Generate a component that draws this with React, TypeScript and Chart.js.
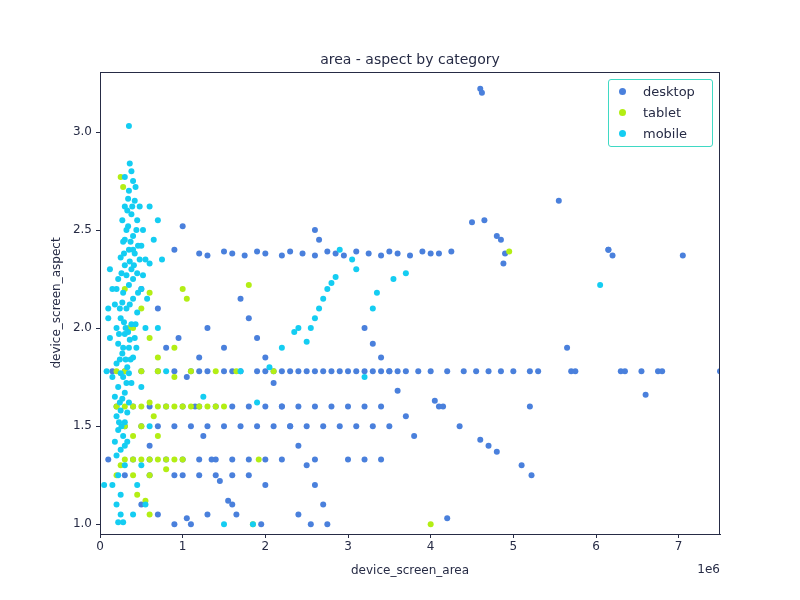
import React, { useEffect, useRef } from "react";
import { Chart, registerables } from "chart.js";
Chart.register(...registerables);

const TITLE = "area - aspect by category";
const X_LABEL = "device_screen_area";
const Y_LABEL = "device_screen_aspect";
const X_TICKS = [0, 1, 2, 3, 4, 5, 6, 7];
const Y_TICKS = [1.0, 1.5, 2.0, 2.5, 3.0];
const CATEGORIES = ["desktop", "tablet", "mobile"];
const COLORS = ["#4a80dc", "#b3ee14", "#14cdf2"];

// [area in millions, aspect]
const desktop: number[][] = [
  [0.15,1.78],[0.3,1.78],[0.5,1.78],[0.7,1.78],[0.9,1.78],[1.1,1.78],[1.3,1.78],[1.5,1.78],[1.7,1.78],[1.9,1.78],[2.1,1.78],[2.3,1.78],[2.5,1.78],[2.7,1.78],[2.9,1.78],[3.1,1.78],[3.3,1.78],[3.5,1.78],[3.6,1.78],[3.7,1.78],[3.85,1.78],[4.0,1.78],[4.2,1.78],[4.4,1.78],[4.55,1.78],[4.7,1.78],[4.85,1.78],[5.0,1.78],[5.2,1.78],[5.3,1.78],[5.7,1.78],[5.75,1.78],[6.3,1.78],[6.35,1.78],[6.55,1.78],[6.75,1.78],[6.8,1.78],[7.5,1.78],
  [2.2,1.78],[2.4,1.78],[2.6,1.78],[2.8,1.78],[3.0,1.78],[3.2,1.78],[3.4,1.78],[1.2,1.78],[1.6,1.78],[2.0,1.78],
  [0.2,1.6],[0.4,1.6],[0.6,1.6],[0.8,1.6],[1.0,1.6],[1.2,1.6],[1.4,1.6],[1.6,1.6],[1.8,1.6],[2.0,1.6],[2.2,1.6],[2.4,1.6],[2.6,1.6],[2.8,1.6],[3.0,1.6],[3.2,1.6],[3.4,1.6],[4.1,1.6],[5.2,1.6],
  [0.3,1.5],[0.5,1.5],[0.7,1.5],[0.9,1.5],[1.1,1.5],[1.3,1.5],[1.5,1.5],[1.7,1.5],[1.9,1.5],[2.1,1.5],[2.3,1.5],[2.5,1.5],[2.7,1.5],[2.9,1.5],[3.1,1.5],[3.3,1.5],[3.5,1.5],
  [0.1,1.33],[0.4,1.33],[0.6,1.33],[0.8,1.33],[1.0,1.33],[1.2,1.33],[1.4,1.33],[1.6,1.33],[1.8,1.33],[2.0,1.33],[2.2,1.33],[2.6,1.33],[3.0,1.33],[3.2,1.33],[3.4,1.33],
  [0.3,1.25],[0.6,1.25],[0.9,1.25],[1.0,1.25],[1.2,1.25],[1.4,1.25],[1.6,1.25],[1.8,1.25],
  [1.2,2.38],[1.3,2.37],[1.5,2.39],[1.6,2.38],[1.75,2.37],[1.9,2.39],[2.0,2.38],[2.2,2.37],[2.3,2.39],[2.45,2.38],[2.6,2.37],[2.75,2.39],[2.85,2.38],[2.95,2.37],[3.1,2.39],[3.25,2.38],[3.4,2.37],[3.5,2.39],[3.6,2.38],[3.75,2.37],[3.9,2.39],[4.0,2.38],[4.1,2.38],[4.25,2.39],[4.9,2.38],[6.15,2.4],
  [1.7,2.15],[1.8,2.05],[1.9,1.95],[2.0,1.85],[2.1,1.72],[2.2,1.6],[2.3,1.5],[2.4,1.4],[2.5,1.3],[2.6,1.2],[2.7,1.1],[2.75,1.0],
  [0.95,1.95],[1.05,1.75],[1.15,1.6],[1.25,1.45],[1.35,1.33],[1.45,1.22],[1.55,1.12],[1.65,1.05],
  [3.2,2.0],[3.3,1.92],[3.4,1.85],[3.5,1.78],[3.6,1.68],[3.7,1.55],[3.8,1.45],
  [4.6,3.22],[4.62,3.2],[5.55,2.65],[4.5,2.54],[4.65,2.55],[4.8,2.47],[4.85,2.45],[4.88,2.33],[6.15,2.4],[6.2,2.37],[7.05,2.37],[5.65,1.9],[6.6,1.66],[4.2,1.03],[5.22,1.25],[5.1,1.3],[4.8,1.37],[4.7,1.4],[4.6,1.43],[4.35,1.5],[4.05,1.63],[4.15,1.6],
  [1.0,2.52],[0.9,2.4],[1.3,2.0],[1.5,1.9],[1.2,1.85],[2.6,2.5],[2.65,2.45],[0.5,2.2],[0.7,2.1],[0.8,1.9],[0.6,1.4],[0.5,1.1],[0.9,1.0],[1.1,1.0],[1.3,1.05],[1.6,1.1],[2.0,1.2],[2.4,1.05],[2.55,1.0],[1.05,1.03],[1.95,1.0],[0.7,1.05],
];

const tablet: number[][] = [
  [0.25,2.77],[0.28,2.72],[0.3,2.2],[0.35,2.0],[0.4,2.0],[0.5,2.1],[0.6,2.18],[1.0,2.2],[1.05,2.15],[1.8,2.22],[0.6,1.95],[0.7,1.85],[0.9,1.9],
  [0.2,1.78],[0.3,1.78],[0.5,1.78],[0.7,1.78],[0.9,1.75],[1.1,1.78],[1.4,1.78],[1.65,1.78],[2.1,1.78],
  [0.2,1.6],[0.3,1.6],[0.4,1.6],[0.5,1.6],[0.6,1.62],[0.65,1.55],[0.7,1.6],[0.8,1.6],[0.9,1.6],[1.0,1.6],[1.1,1.6],[1.2,1.6],[1.3,1.6],[1.4,1.6],[1.5,1.6],
  [0.3,1.5],[0.5,1.5],[0.7,1.45],[0.3,1.33],[0.4,1.33],[0.5,1.33],[0.6,1.33],[0.7,1.33],[0.8,1.33],[0.9,1.33],[1.0,1.33],[1.92,1.33],
  [0.2,1.25],[0.4,1.25],[0.6,1.25],[0.8,1.28],[0.55,1.12],[0.6,1.05],[0.25,1.3],[4.0,1.0],[4.95,2.39],[1.85,1.0],[0.4,1.45],[0.45,1.15],
];

const mobile: number[][] = [
  [0.35,3.03],[0.36,2.84],[0.38,2.8],[0.3,2.77],[0.4,2.75],[0.35,2.7],[0.42,2.65],[0.3,2.62],[0.38,2.58],[0.45,2.55],[0.32,2.5],[0.4,2.47],[0.28,2.44],[0.5,2.42],[0.35,2.4],[0.42,2.38],[0.25,2.36],[0.55,2.35],[0.3,2.32],[0.38,2.3],[0.45,2.28],[0.22,2.25],[0.6,2.33],[0.35,2.22],[0.5,2.2],[0.28,2.18],[0.4,2.15],[0.18,2.12],[0.32,2.1],[0.45,2.08],[0.25,2.05],[0.38,2.02],[0.2,2.0],[0.3,1.97],[0.42,1.95],[0.22,1.92],[0.35,1.9],[0.27,1.87],[0.4,1.85],[0.2,1.82],[0.33,1.8],[0.25,1.77],[0.15,1.75],[0.38,1.72],[0.22,1.7],[0.3,1.67],[0.18,1.65],[0.35,1.62],[0.25,1.58],[0.2,1.55],[0.3,1.52],[0.22,1.48],[0.28,1.45],[0.18,1.42],[0.25,1.38],[0.2,1.35],[0.3,1.3],[0.22,1.25],[0.15,1.2],[0.25,1.15],[0.2,1.1],[0.25,1.05],[0.28,1.01],[0.22,1.01],
  [0.27,2.55],[0.33,2.6],[0.44,2.5],[0.48,2.35],[0.26,2.28],[0.36,2.34],[0.46,2.18],[0.24,2.1],[0.34,1.98],[0.44,1.9],[0.28,1.9],[0.37,1.84],[0.24,1.62],[0.32,1.72],[0.26,1.5],[0.33,1.42],[0.4,2.4],[0.3,2.45],[0.48,2.62],[0.43,2.72],[0.31,2.0],[0.4,2.25],[0.52,2.27],[0.57,2.15],
  [0.34,2.52],[0.29,2.38],[0.37,2.44],[0.41,2.32],[0.32,2.27],[0.27,2.13],[0.36,2.12],[0.43,2.02],[0.29,2.03],[0.36,1.94],[0.24,1.84],[0.31,1.84],[0.28,1.75],[0.35,1.77],[0.27,1.64],[0.33,1.57],[0.23,1.52],[0.3,1.4],[0.34,2.66],[0.39,2.62],[0.46,2.42],[0.52,2.5],[0.2,2.2],[0.23,1.97],
  [0.05,1.2],[0.08,1.78],[0.12,1.95],[0.1,2.05],[0.15,2.2],[0.12,2.3],[0.1,2.1],[0.6,2.62],[0.7,2.55],[0.65,2.45],[0.75,2.35],[0.7,2.0],[0.55,2.0],[0.8,1.78],[0.5,1.7],[0.6,1.5],[0.5,1.3],[0.45,1.2],[0.55,1.1],[0.4,1.05],
  [2.5,1.93],[2.55,2.0],[2.6,2.05],[2.65,2.1],[2.7,2.15],[2.75,2.2],[2.8,2.23],[2.85,2.26],
  [2.2,1.9],[2.35,1.98],[2.4,2.0],[2.05,1.8],[3.1,2.3],[3.05,2.35],[3.3,2.1],[3.35,2.18],[3.55,2.25],[3.7,2.28],[6.05,2.22],[2.9,2.4],[1.9,1.62],[1.5,1.0],[1.85,1.0],[1.7,1.78],[3.2,1.75],[1.25,1.65],
];

const SERIES = [desktop, tablet, mobile];
const TEXT = "#262b45";
const FONT = "DejaVu Sans";

export default function App() {
  const ref = useRef<HTMLCanvasElement>(null);
  useEffect(() => {
    const textPlugin = {
      id: "texts",
      afterDraw(chart: any) {
        const c = chart.ctx;
        const a = chart.chartArea;
        c.save();
        c.strokeStyle = TEXT;
        c.lineWidth = 1;
        c.strokeRect(a.left + 0.5, a.top + 0.5, a.right - a.left - 1, a.bottom - a.top);
        c.fillStyle = TEXT;
        c.font = `14px ${FONT}`;
        c.textAlign = "center";
        c.textBaseline = "alphabetic";
        c.fillText(TITLE, (a.left + a.right) / 2, 64);
        c.font = `12px ${FONT}`;
        c.fillText(X_LABEL, (a.left + a.right) / 2, 574);
        c.textAlign = "right";
        c.fillText("1e6", a.right, 573);
        c.translate(60, (a.top + a.bottom) / 2);
        c.rotate(-Math.PI / 2);
        c.textAlign = "center";
        c.fillText(Y_LABEL, 0, 0);
        c.restore();
      },
    };
    const chart = new Chart(ref.current!, {
      type: "scatter",
      data: {
        datasets: SERIES.map((s, i) => ({
          label: CATEGORIES[i],
          data: s.map(([x, y]) => ({ x: x * 1e6, y })),
          backgroundColor: COLORS[i],
          borderColor: COLORS[i],
          pointRadius: 3,
          borderWidth: 0,
          order: 3 - i,
        })),
      },
      options: {
        animation: false,
        responsive: false,
        layout: { padding: { top: 72, right: 80 } },
        plugins: { legend: { display: false }, tooltip: { enabled: false } },
        scales: {
          x: {
            min: 0, max: 7.5e6,
            afterFit: (s: any) => { s.height = 66; },
            afterBuildTicks: (s: any) => { s.ticks = X_TICKS.map((v) => ({ value: v * 1e6 })); },
            ticks: { color: TEXT, padding: 2, font: { family: FONT, size: 12 }, callback: (v: any) => String(v / 1e6) },
            grid: { display: true, drawOnChartArea: false, drawTicks: true, tickLength: 4, color: TEXT },
            border: { color: TEXT },
          },
          y: {
            min: 0.95, max: 3.306,
            afterFit: (s: any) => { s.width = 100; },
            afterBuildTicks: (s: any) => { s.ticks = Y_TICKS.map((v) => ({ value: v })); },
            ticks: { color: TEXT, padding: 4, font: { family: FONT, size: 12 }, callback: (v: any) => Number(v).toFixed(1) },
            grid: { display: true, drawOnChartArea: false, drawTicks: true, tickLength: 4, color: TEXT },
            border: { color: TEXT },
          },
        },
      },
      plugins: [textPlugin],
    });
    return () => chart.destroy();
  }, []);
  return (
    <div style={{ position: "absolute", left: 0, top: 0, width: 800, height: 600, background: "#fff" }}>
      <canvas ref={ref} width={800} height={600} />
      <div style={{ position: "absolute", left: 608, top: 79, width: 103, height: 66, border: "1px solid #3fd9c4", borderRadius: 3, background: "rgba(255,255,255,0.85)", fontFamily: FONT, fontSize: 13, color: TEXT }}>
        {CATEGORIES.map((c, i) => (
          <div key={c} style={{ position: "absolute", left: 10, top: 2 + i * 21, height: 18, display: "flex", alignItems: "center" }}>
            <span style={{ width: 7, height: 7, borderRadius: "50%", background: COLORS[i], display: "inline-block", marginRight: 17 }} />
            {c}
          </div>
        ))}
      </div>
    </div>
  );
}
